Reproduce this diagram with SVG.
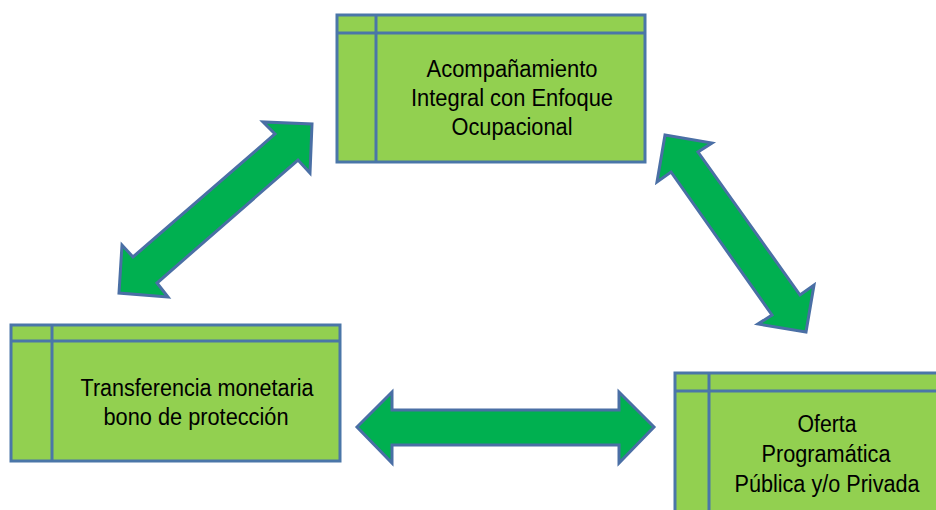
<svg xmlns="http://www.w3.org/2000/svg" width="936" height="510" viewBox="0 0 936 510">
<style>
.box{fill:#92D050;stroke:#4A76A8;stroke-width:3}
.div{fill:none;stroke:#4A76A8;stroke-width:3}
.arrow{fill:#00B050;stroke:#4A6FA5;stroke-width:3;stroke-linejoin:miter}
.t{font-family:"Liberation Sans",Arial,sans-serif;font-size:23.5px;fill:#000;text-anchor:middle}
</style>
<rect width="936" height="510" fill="#fff"/>
<g id="node-acompanamiento">
<rect class="box" x="337" y="15" width="308" height="147"/>
<path class="div" d="M376 15V162M337 33H645"/>
<text class="t" x="512" y="77" textLength="171" lengthAdjust="spacingAndGlyphs">Acompañamiento</text>
<text class="t" x="512" y="106" textLength="202" lengthAdjust="spacingAndGlyphs">Integral con Enfoque</text>
<text class="t" x="512" y="135" textLength="121" lengthAdjust="spacingAndGlyphs">Ocupacional</text>
</g>
<g id="node-transferencia">
<rect class="box" x="11" y="325" width="329" height="136"/>
<path class="div" d="M52 325V461M11 341H340"/>
<text class="t" x="197" y="396" textLength="233" lengthAdjust="spacingAndGlyphs">Transferencia monetaria</text>
<text class="t" x="196" y="425" textLength="185" lengthAdjust="spacingAndGlyphs">bono de protección</text>
</g>
<g id="node-oferta">
<rect class="box" x="675" y="373" width="320" height="160"/>
<path class="div" d="M709 373V533M675 391H995"/>
<text class="t" x="827" y="432" textLength="59" lengthAdjust="spacingAndGlyphs">Oferta</text>
<text class="t" x="826" y="462" textLength="129" lengthAdjust="spacingAndGlyphs">Programática</text>
<text class="t" x="827" y="492" textLength="185" lengthAdjust="spacingAndGlyphs">Pública y/o Privada</text>
</g>
<g id="connectors">
<polygon class="arrow" points="312,124 310,173 298,160 157,283 168,297 119,293 122,245 133,257 275,134 263,122"/>
<polygon class="arrow" points="665,135 712,143 698,152 800,295 814,285 806,332 758,324 772,315 671,172 657,182"/>
<polygon class="arrow" points="357,427 392,392 392,410 619,410 619,392 654,427 619,463 619,445 392,445 392,463"/>
</g>
</svg>
